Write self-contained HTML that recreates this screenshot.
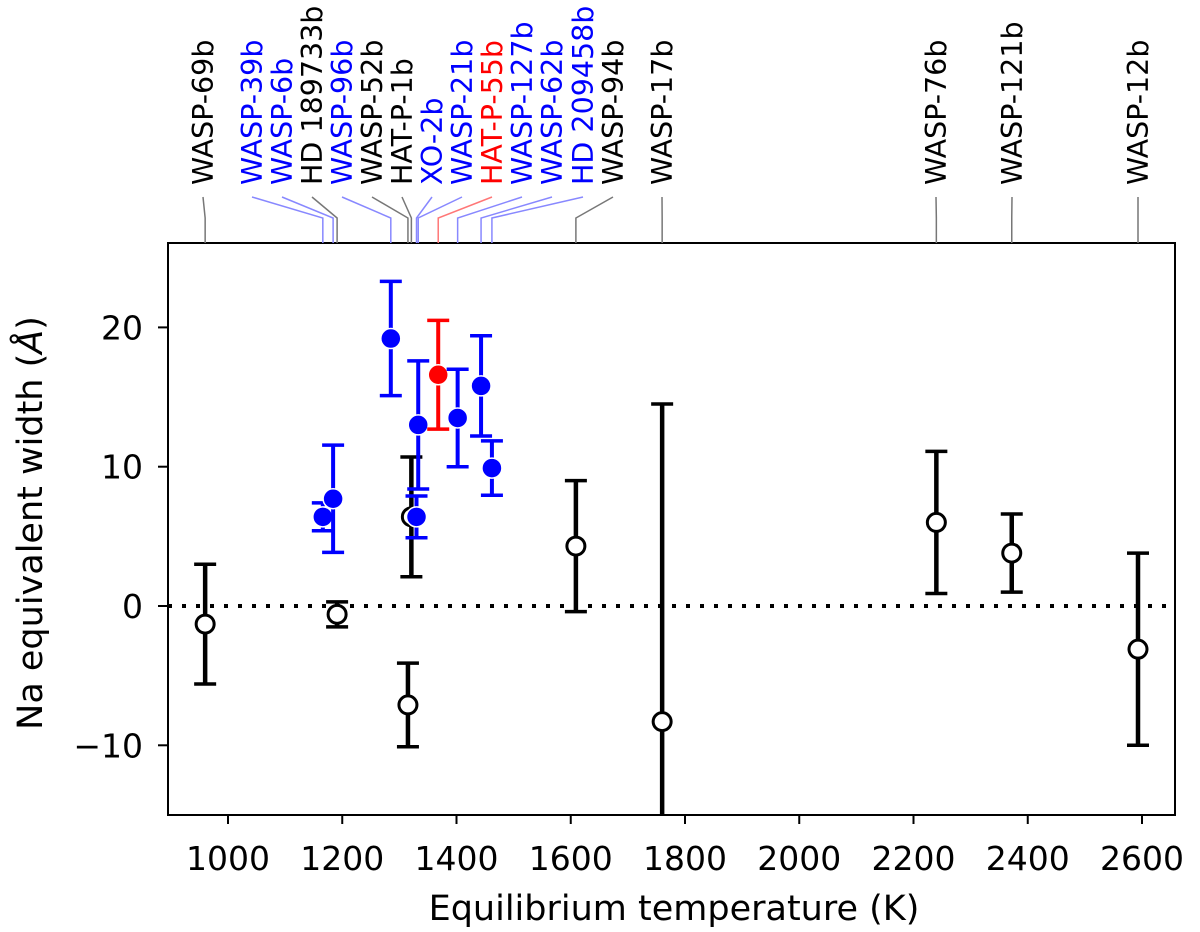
<!DOCTYPE html>
<html><head><meta charset="utf-8"><style>
html,body{margin:0;background:#fff;overflow:hidden;width:1200px;height:932px}
svg{display:block}
svg text{font-family:"DejaVu Sans","Liberation Sans",sans-serif}
</style></head><body>
<svg id="c" width="1200" height="932" xmlns="http://www.w3.org/2000/svg"></svg>
<script>
const names=["WASP-69b","WASP-39b","WASP-6b","HD 189733b","WASP-96b","WASP-52b","HAT-P-1b","XO-2b","WASP-21b","HAT-P-55b","WASP-127b","WASP-62b","HD 209458b","WASP-94b","WASP-17b","WASP-76b","WASP-121b","WASP-12b"];
const temps=[960,1166,1184,1191,1285,1315,1321,1330,1333,1368,1402,1443,1462,1609,1760,2240,2372,2593];
const widths=[-1.3,6.4,7.7,-0.6,19.2,-7.1,6.4,6.4,13.0,16.6,13.5,15.8,9.9,4.3,-8.3,6.0,3.8,-3.1];
const errs=[4.3,1.0,3.85,0.9,4.1,3.0,4.3,1.5,4.6,3.9,3.5,3.6,1.95,4.7,22.8,5.1,2.8,6.9];
const kinds=["k","b","b","k","b","k","k","b","b","r","b","b","b","k","k","k","k","k"];
const labelX=[203,252,282,312,342,372,402,432,462,492,522,552,583,613,662,936,1012,1138];
const xTicks=[1000,1200,1400,1600,1800,2000,2200,2400,2600];
const yTicks=[-10,0,10,20];
const L=168,R=1175,T=243,B=815;
const x=v=>228+(v-1000)*0.57125;
const y=v=>606-v*13.93;
const svg=document.getElementById('c');
const NS='http://www.w3.org/2000/svg';
function mk(tag,a,parent){const e=document.createElementNS(NS,tag);for(const k in a)e.setAttribute(k,a[k]);(parent||svg).appendChild(e);return e;}
const col={k:'#000',b:'#0000ff',r:'#ff0000'};
const lcol={k:'#777',b:'#8888ff',r:'#ff7777'};
const defs=mk('defs',{});const cp=mk('clipPath',{id:'pc'},defs);mk('rect',{x:L,y:T,width:R-L,height:B-T},cp);
const zl=mk('line',{x1:L,x2:R,y1:y(0),y2:y(0),stroke:'#000','stroke-width':4,'stroke-dasharray':'4,10'});


const g=mk('g',{'clip-path':'url(#pc)'});
temps.forEach((t,i)=>{
  const c=col[kinds[i]];const px=x(t),py=y(widths[i]);
  const eg=mk('g',{},g);
  
  
  const sw=kinds[i]==='k'?4.5:4;
  mk('line',{x1:px,x2:px,y1:y(widths[i]+errs[i]),y2:y(widths[i]-errs[i]),stroke:c,'stroke-width':sw},eg);
  [1,-1].forEach(s=>mk('line',{x1:px-11,x2:px+11,y1:y(widths[i]+s*errs[i]),y2:y(widths[i]+s*errs[i]),stroke:c,'stroke-width':3.5},eg));
  if(kinds[i]==='k')mk('circle',{cx:px,cy:py,r:9,fill:'#fff',stroke:'#000','stroke-width':3},eg);
  else mk('circle',{cx:px,cy:py,r:10,fill:c,stroke:'#fff','stroke-width':1.5},eg);
});
const fr=mk('rect',{x:L,y:T,width:R-L,height:B-T,fill:'none',stroke:'#000','stroke-width':2});


xTicks.forEach(v=>{
  mk('line',{x1:x(v),x2:x(v),y1:B,y2:B+9,stroke:'#000','stroke-width':2});
  const t=mk('text',{x:x(v),y:870,'font-size':33,'text-anchor':'middle'});t.textContent=v;
  
  
});
yTicks.forEach(v=>{
  mk('line',{x1:L-10,x2:L,y1:y(v),y2:y(v),stroke:'#000','stroke-width':2});
  const t=mk('text',{x:L-25,y:y(v)+12,'font-size':33,'text-anchor':'end'});t.textContent=(v<0?'\u2212'+(-v):v);
  
  
});
const xt=mk('text',{x:674,y:920,'font-size':35,'text-anchor':'middle'});xt.textContent='Equilibrium temperature (K)';


const yt=mk('text',{x:0,y:0,'font-size':35,'text-anchor':'middle',transform:'translate(42,523) rotate(-90)'});
yt.innerHTML='Na equivalent width (<tspan font-style="italic">Å</tspan>)';


names.forEach((n,i)=>{
  const k=kinds[i];const tx=x(temps[i]);const lx=labelX[i];
  mk('polyline',{points:`${lx},197 ${tx},218 ${tx},${T}`,fill:'none',stroke:lcol[k],'stroke-width':1.5});
  const t=mk('text',{x:0,y:0,'font-size':28.5,fill:col[k],transform:`translate(${lx+10},185) rotate(-90)`});t.textContent=n;
  
  
});
</script>
</body></html>
